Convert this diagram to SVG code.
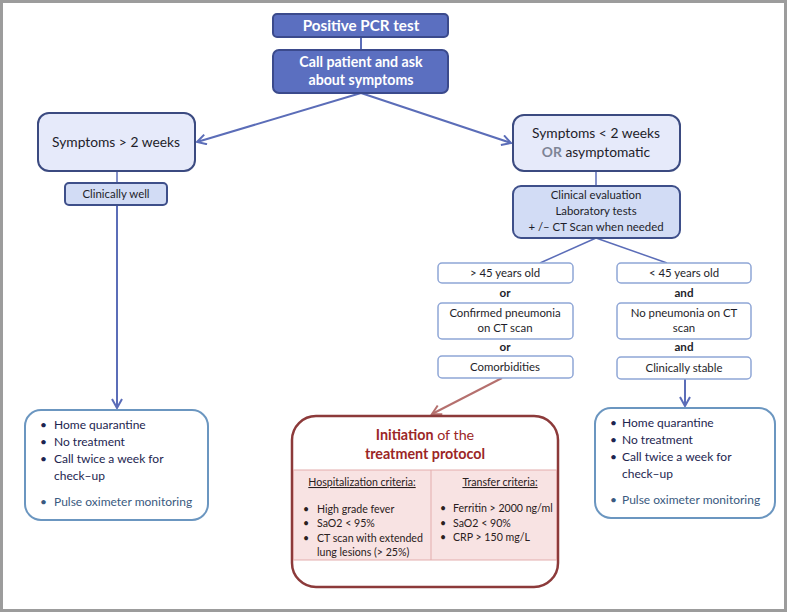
<svg xmlns="http://www.w3.org/2000/svg" width="787" height="612" viewBox="0 0 787 612">
<defs>
<style>
text{font-family:Lato,"Open Sans","Liberation Sans",sans-serif;text-anchor:middle;fill:#1e1e2a}
.hdr{fill:#5b6fc0;stroke:#3b4a8c;stroke-width:2}
.hdrt{fill:#fff;font-weight:bold;font-size:14.2px}
.sym{fill:#e6eafa;stroke:#3b4a80;stroke-width:2}
.symt{font-size:13.8px}
.mid{fill:#d2dcf5;stroke:#3e4f8a;stroke-width:2}
.ct{font-size:11.4px}
.conj{font-size:11.6px;font-weight:bold}
.home{fill:#fff;stroke:#6b96c0;stroke-width:2}
.ht{font-size:12px;text-anchor:start;fill:#1d2550}
.hp{font-size:12px;text-anchor:start;fill:#3a5a80}
.con{stroke:#5b6db8;stroke-width:2;fill:none}
.red{stroke:#b5706e;stroke-width:2;fill:none}
.tt{fill:#9b2626;font-size:14.3px}
.tb{font-size:10.6px;text-anchor:start;fill:#2a2020}
.tu{font-size:10.6px;fill:#2a2020;text-decoration:underline}
</style>
<marker id="ab" markerWidth="12" markerHeight="12" refX="10" refY="6" orient="auto" markerUnits="userSpaceOnUse">
<path d="M1,1 L10,6 L1,11" fill="none" stroke="#5b6db8" stroke-width="2"/>
</marker>
<marker id="ar" markerWidth="12" markerHeight="12" refX="10" refY="6" orient="auto" markerUnits="userSpaceOnUse">
<path d="M1,1 L10,6 L1,11" fill="none" stroke="#b5706e" stroke-width="2"/>
</marker>
</defs>
<rect x="0" y="0" width="787" height="612" fill="#fff"/>
<rect x="1.5" y="1.5" width="784" height="609" fill="none" stroke="#9c9c9c" stroke-width="3"/>

<g id="connectors">
<line class="con" x1="361" y1="37" x2="361" y2="50"/>
<line class="con" x1="361" y1="93" x2="197" y2="142" marker-end="url(#ab)"/>
<line class="con" x1="361" y1="93" x2="511" y2="143" marker-end="url(#ab)"/>
<line class="con" x1="117" y1="171" x2="117" y2="183" style="stroke-width:1.5"/>
<line class="con" x1="117" y1="205" x2="117" y2="408" marker-end="url(#ab)"/>
<line class="con" x1="596" y1="171" x2="596" y2="186" style="stroke-width:1.5"/>
<line class="con" x1="596" y1="238" x2="540" y2="263" style="stroke-width:1.5"/>
<line class="con" x1="596" y1="238" x2="667" y2="263" style="stroke-width:1.5"/>
<line class="con" x1="685" y1="379" x2="685" y2="406" marker-end="url(#ab)"/>
<line class="red" x1="502" y1="378" x2="432" y2="414" marker-end="url(#ar)"/>
</g>

<g id="pcr">
<rect class="hdr" x="273" y="14" width="175" height="23" rx="4"/>
<text class="hdrt" x="361" y="31" style="font-size:15.2px">Positive PCR test</text>
</g>
<g id="call">
<rect class="hdr" x="273" y="50" width="175" height="43" rx="6"/>
<text class="hdrt" x="361" y="67">Call patient and ask</text>
<text class="hdrt" x="361" y="85">about symptoms</text>
</g>

<g id="sym-gt2">
<rect class="sym" x="38" y="113" width="157" height="58" rx="11"/>
<text class="symt" x="116" y="147">Symptoms &gt; 2 weeks</text>
</g>
<g id="clin-well">
<rect class="mid" x="65" y="183" width="102" height="22" rx="4"/>
<text class="ct" x="116" y="198">Clinically well</text>
</g>

<g id="sym-lt2">
<rect class="sym" x="513" y="115" width="167" height="56" rx="11"/>
<text class="symt" x="596" y="138">Symptoms &lt; 2 weeks</text>
<text class="symt" x="596" y="157"><tspan style="fill:#7d8496;font-weight:bold">OR</tspan> asymptomatic</text>
</g>
<g id="clin-eval">
<rect class="mid" x="513" y="186" width="167" height="52" rx="8"/>
<text class="ct" x="596" y="199">Clinical evaluation</text>
<text class="ct" x="596" y="215">Laboratory tests</text>
<text class="ct" x="596" y="231">+ /– CT Scan when needed</text>
</g>

<g id="gt45">
<rect class="cond" x="438" y="263" width="135" height="20" rx="4" fill="#fff" stroke="#8fa6d6" stroke-width="1.5"/>
<text class="ct" x="505" y="277">&gt; 45 years old</text>
</g>
<text class="conj" x="505" y="297">or</text>
<g id="pneu">
<rect x="438" y="303" width="135" height="36" rx="4" fill="#fff" stroke="#8fa6d6" stroke-width="1.5"/>
<text class="ct" x="505" y="317">Confirmed pneumonia</text>
<text class="ct" x="505" y="332">on CT scan</text>
</g>
<text class="conj" x="505" y="351">or</text>
<g id="comorb">
<rect x="438" y="356" width="135" height="22" rx="4" fill="#fff" stroke="#8fa6d6" stroke-width="1.5"/>
<text class="ct" x="505" y="371">Comorbidities</text>
</g>

<g id="lt45">
<rect x="617" y="263" width="134" height="20" rx="4" fill="#fff" stroke="#8fa6d6" stroke-width="1.5"/>
<text class="ct" x="684" y="277">&lt; 45 years old</text>
</g>
<text class="conj" x="684" y="297">and</text>
<g id="nopneu">
<rect x="617" y="303" width="134" height="36" rx="4" fill="#fff" stroke="#8fa6d6" stroke-width="1.5"/>
<text class="ct" x="684" y="317">No pneumonia on CT</text>
<text class="ct" x="684" y="332">scan</text>
</g>
<text class="conj" x="684" y="351">and</text>
<g id="stable">
<rect x="617" y="357" width="134" height="22" rx="4" fill="#fff" stroke="#8fa6d6" stroke-width="1.5"/>
<text class="ct" x="684" y="372">Clinically stable</text>
</g>

<g id="home-left">
<rect class="home" x="25" y="410" width="183" height="110" rx="16"/>
<text class="ht" x="40" y="429">•</text><text class="ht" x="54" y="429">Home quarantine</text>
<text class="ht" x="40" y="446">•</text><text class="ht" x="54" y="446">No treatment</text>
<text class="ht" x="40" y="463">•</text><text class="ht" x="54" y="463">Call twice a week for</text>
<text class="ht" x="54" y="480">check–up</text>
<text class="hp" x="40" y="506">•</text><text class="hp" x="54" y="506">Pulse oximeter monitoring</text>
</g>

<g id="home-right">
<rect class="home" x="595" y="408" width="180" height="110" rx="16"/>
<text class="ht" x="610" y="427">•</text><text class="ht" x="622" y="427">Home quarantine</text>
<text class="ht" x="610" y="444">•</text><text class="ht" x="622" y="444">No treatment</text>
<text class="ht" x="610" y="461">•</text><text class="ht" x="622" y="461">Call twice a week for</text>
<text class="ht" x="622" y="478">check–up</text>
<text class="hp" x="610" y="504">•</text><text class="hp" x="622" y="504">Pulse oximeter monitoring</text>
</g>

<g id="treatment">
<rect x="292" y="416" width="266" height="171" rx="24" fill="#fff" stroke="#8c3a3a" stroke-width="2.5"/>
<rect x="293.5" y="470" width="263" height="90" fill="#f8e3e3" stroke="#e3adad" stroke-width="1"/>
<line x1="431" y1="470" x2="431" y2="560" stroke="#e3adad" stroke-width="1"/>
<text class="tt" x="425" y="440"><tspan font-weight="bold">Initiation</tspan> of the</text>
<text class="tt" x="425" y="459" font-weight="bold">treatment protocol</text>
<text class="tu" x="362" y="486">Hospitalization criteria:</text>
<text class="tu" x="500" y="486">Transfer criteria:</text>
<text class="tb" x="303" y="513">•</text><text class="tb" x="317" y="513">High grade fever</text>
<text class="tb" x="303" y="527">•</text><text class="tb" x="317" y="527">SaO2 &lt; 95%</text>
<text class="tb" x="303" y="542">•</text><text class="tb" x="317" y="542">CT scan with extended</text>
<text class="tb" x="317" y="556">lung lesions (&gt; 25%)</text>
<text class="tb" x="440" y="512">•</text><text class="tb" x="453" y="512">Ferritin &gt; 2000 ng/ml</text>
<text class="tb" x="440" y="527">•</text><text class="tb" x="453" y="527">SaO2 &lt; 90%</text>
<text class="tb" x="440" y="541">•</text><text class="tb" x="453" y="541">CRP &gt; 150 mg/L</text>
</g>
</svg>
